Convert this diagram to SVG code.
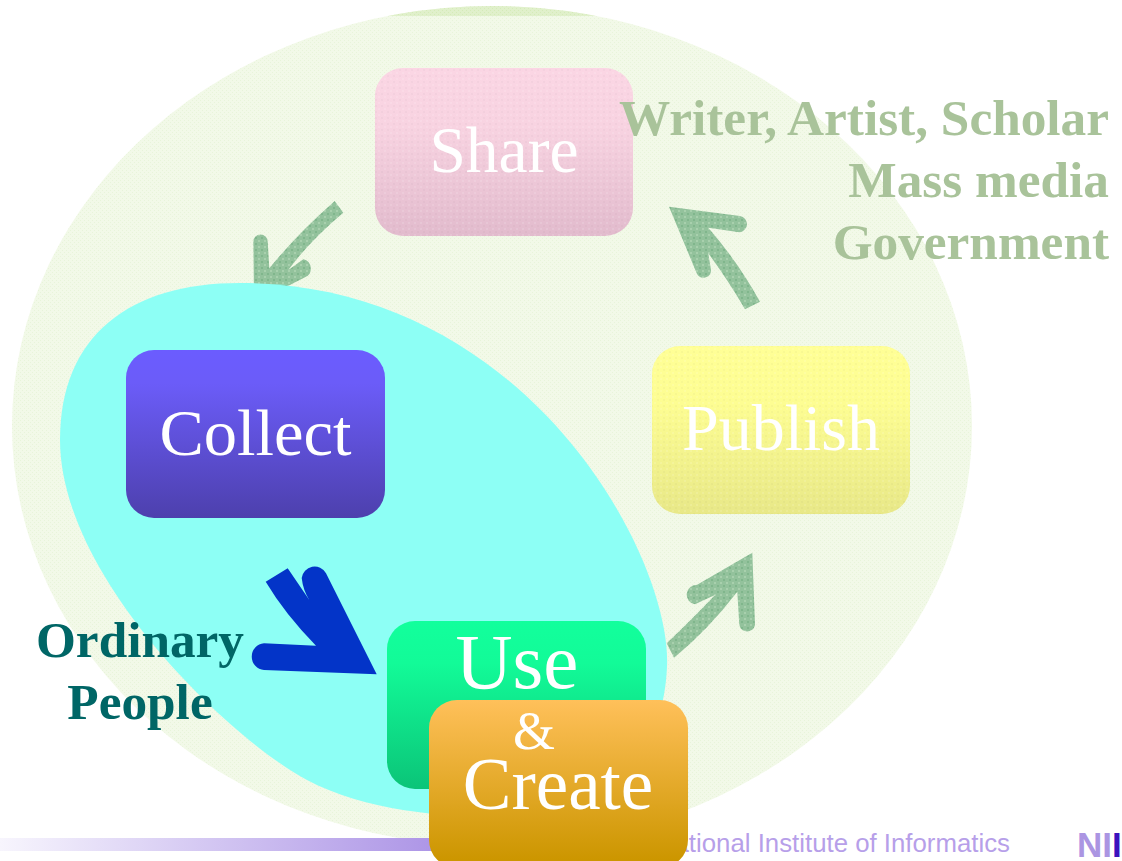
<svg xmlns="http://www.w3.org/2000/svg" width="1122" height="861" viewBox="0 0 1122 861">
<style>
.lbl{font-family:"Liberation Serif","Times New Roman",serif;fill:#fff;text-anchor:middle}
.side{font-family:"Liberation Serif","Times New Roman",serif;font-weight:bold;font-size:51.3px}
.pale{fill:#a9c39a;text-anchor:end}
.teal{fill:#006666;text-anchor:middle}
.arrow{fill:url(#pArrow)}
</style>
<defs>
<pattern id="pPale" width="4" height="4" patternUnits="userSpaceOnUse"><rect width="4" height="4" fill="#f2f9e8"/><rect width="1" height="1" fill="#e8f4da"/><rect x="2" y="2" width="1" height="1" fill="#e8f4da"/></pattern>
<pattern id="pCap" width="4" height="4" patternUnits="userSpaceOnUse"><rect width="4" height="4" fill="#e0f0cb"/><rect width="1" height="1" fill="#d5ebb8"/><rect x="2" y="2" width="1" height="1" fill="#d5ebb8"/></pattern>
<pattern id="pArrow" width="6" height="6" patternUnits="userSpaceOnUse"><rect width="6" height="6" fill="#93c29c"/><rect x="0" y="0" width="2" height="2" fill="#a8d0ad"/><rect x="3" y="3" width="2" height="2" fill="#80b68c"/></pattern>
<pattern id="pWeave" width="6" height="6" patternUnits="userSpaceOnUse"><rect x="0" y="0" width="2" height="2" fill="#fff" fill-opacity="0.12"/><rect x="3" y="3" width="2" height="2" fill="#000" fill-opacity="0.025"/></pattern>
<linearGradient id="gCollect" x1="0" y1="0" x2="0" y2="1"><stop offset="0" stop-color="#6b5cff"/><stop offset="0.2" stop-color="#6b5cf8"/><stop offset="1" stop-color="#4d40ad"/></linearGradient>
<linearGradient id="gUse" x1="0" y1="0" x2="0" y2="1"><stop offset="0" stop-color="#12ff9c"/><stop offset="0.25" stop-color="#12fb98"/><stop offset="1" stop-color="#0bc478"/></linearGradient>
<linearGradient id="gCreate" x1="0" y1="0" x2="0" y2="1"><stop offset="0" stop-color="#ffc05a"/><stop offset="0.95" stop-color="#cc9600"/></linearGradient>
<linearGradient id="gPublish" x1="0" y1="0" x2="0" y2="1"><stop offset="0" stop-color="#ffff96"/><stop offset="0.35" stop-color="#fdfd92"/><stop offset="1" stop-color="#e8e888"/></linearGradient>
<linearGradient id="gShare" x1="0" y1="0" x2="0" y2="1"><stop offset="0" stop-color="#fbd6e4"/><stop offset="0.35" stop-color="#f8d3e1"/><stop offset="1" stop-color="#e2bbcd"/></linearGradient>
<linearGradient id="gBar" x1="0" y1="0" x2="1" y2="0"><stop offset="0" stop-color="#f7f5fd"/><stop offset="1" stop-color="#ac94e6"/></linearGradient>
<clipPath id="capClip"><rect x="0" y="0" width="1122" height="16"/></clipPath>
</defs>
<rect width="1122" height="861" fill="#fff"/>
<g id="outer-ellipse">
<ellipse cx="492" cy="426" rx="480" ry="420" fill="url(#pPale)"/>
<ellipse cx="492" cy="426" rx="480" ry="420" fill="url(#pCap)" clip-path="url(#capClip)"/>
</g>
<g id="footer">
<rect x="0" y="838" width="440" height="13" fill="url(#gBar)"/>
<text x="1010" y="852" text-anchor="end" font-family="'Liberation Sans',Arial,sans-serif" font-size="25.8" fill="#b79fe9">National Institute of Informatics</text>
<text x="1077" y="857" font-family="'Liberation Sans',Arial,sans-serif" font-weight="bold" font-size="35" fill="#ab95e2">NI<tspan fill="#3a12bd">I</tspan></text>
</g>
<g id="connectors">
<path id="arrow-share-collect" class="arrow" d="M334.7,201 L343.3,212.7 Q309.6,241 288.3,270 L303.3,259.3 A9.5,9.5 0 0 1 305,277.3 L290,285 L254,298 L253.3,241.7 A7.2,7.2 0 0 1 267.7,241.7 L269.3,268.3 Q296.6,234.7 334.7,201Z"/>
<path id="arrow-publish-share" class="arrow" d="M669,206.7 L740,216 A8.2,8.2 0 0 1 739.3,232.3 L708.3,227.7 Q738,262 760,301.7 L745,309.3 Q728,280 708.3,253.3 L711,270 A7.5,7.5 0 0 1 696.7,273.3Z"/>
<path id="arrow-use-publish" class="arrow" d="M752.3,552.7 L755,625 A8,8 0 0 1 739.3,625 L737.3,591.7 Q708,630 674,657.7 L666.7,643.3 Q695.8,615.4 715,595 L695,604.3 A9.7,9.7 0 0 1 696.7,585Z"/>
</g>
<path id="ordinary-region" fill="#8dfff5" d="M60,440 C60,335 130,283 240,283 C525,283 672,555 667,667 C663,755 610,818 520,818 C450,818 367,812 307,780 C227,737 60,576 60,440Z"/>
<g id="share"><rect x="375" y="68" width="258" height="168" rx="28" fill="url(#gShare)"/><rect x="375" y="68" width="258" height="168" rx="28" fill="url(#pWeave)"/><text class="lbl" x="504" y="172" font-size="65.5">Share</text></g>
<g id="collect"><rect x="126" y="350" width="259" height="168" rx="28" fill="url(#gCollect)"/><text class="lbl" x="255.5" y="455" font-size="66.5">Collect</text></g>
<g id="publish"><rect x="652" y="346" width="258" height="168" rx="28" fill="url(#gPublish)"/><rect x="652" y="346" width="258" height="168" rx="28" fill="url(#pWeave)"/><text class="lbl" x="781" y="450" font-size="66">Publish</text></g>
<path id="arrow-collect-use" fill="#0334c8" d="M287.7,568.3 L265.7,581.7 Q285,614 316,645.7 L264,643.3 A13.4,13.4 0 0 0 264,670 L376.7,674.3 L326,573.3 A13,13 0 0 0 301.7,578 Q303,590 309.3,600Z"/>
<g id="use"><rect x="387" y="621" width="259" height="168" rx="28" fill="url(#gUse)"/><text class="lbl" x="517" y="688" font-size="79">Use</text></g>
<g id="create"><rect x="429" y="700" width="259" height="168" rx="28" fill="url(#gCreate)"/><text class="lbl" x="534" y="749" font-size="54">&amp;</text><text class="lbl" x="558" y="809" font-size="73">Create</text></g>
<g id="pro-label"><text class="side pale" x="1109" y="135">Writer, Artist, Scholar</text><text class="side pale" x="1109" y="197">Mass media</text><text class="side pale" x="1109" y="259">Government</text></g>
<g id="ordinary-label"><text class="side teal" x="140" y="657">Ordinary</text><text class="side teal" x="140" y="719">People</text></g>
</svg>
